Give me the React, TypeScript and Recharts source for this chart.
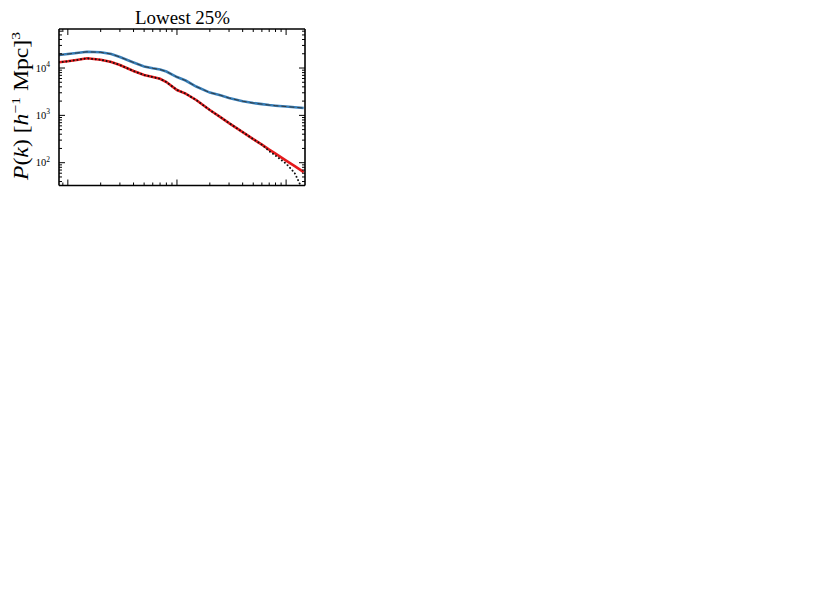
import { Line, LineChart, XAxis, YAxis } from 'recharts'

const kValues = [0.0083, 0.01, 0.012, 0.015, 0.02, 0.025, 0.03, 0.04, 0.05, 0.06, 0.07, 0.08, 0.1, 0.12, 0.15, 0.2, 0.25, 0.3, 0.4, 0.5, 0.6, 0.7, 0.8, 1.0, 1.2, 1.45]
const blueSim = [18830, 19770, 20760, 22000, 21480, 19770, 17080, 13070, 10760, 9860, 9300, 8430, 6450, 5440, 4060, 3030, 2660, 2320, 1990, 1820, 1730, 1650, 1600, 1535, 1480, 1430]
const blueModel = [18830, 19770, 20760, 22000, 21480, 19770, 17080, 13070, 10760, 9860, 9300, 8430, 6450, 5440, 4060, 3030, 2660, 2320, 1990, 1820, 1730, 1650, 1600, 1535, 1480, 1430]
const redSim = [13200, 13850, 14760, 16040, 14910, 13390, 11570, 8640, 7110, 6450, 5910, 5060, 3430, 2890, 2110, 1295, 921, 688, 444, 315, 241, 189, 156, 111, 84.8, 63.3]
const redModel = [13200, 13850, 14760, 16040, 14910, 13390, 11570, 8640, 7110, 6450, 5910, 5060, 3430, 2890, 2110, 1295, 921, 688, 444, 315, 241, 176, 141, 95.7, 60.3, 23.9]

const xTicks = [0.009, 0.01, 0.02, 0.03, 0.04, 0.05, 0.06, 0.07, 0.08, 0.09, 0.1, 0.2, 0.3, 0.4, 0.5, 0.6, 0.7, 0.8, 0.9, 1]
const yTicks = [40, 50, 60, 70, 80, 90, 100, 200, 300, 400, 500, 600, 700, 800, 900, 1000, 2000, 3000, 4000, 5000, 6000, 7000, 8000, 9000, 10000, 20000, 30000, 40000, 50000, 60000]

const data = kValues.map((k, i) => ({ k, blue: blueSim[i], blueM: blueModel[i], red: redSim[i], redM: redModel[i] }))

const BLUE = '#377eb8'
const RED = '#e41a1c'
const SERIF = '"Liberation Serif", "DejaVu Serif", serif'

const isDecade = (v: number) => Math.abs(Math.log10(v) - Math.round(Math.log10(v))) < 1e-9

const LeftTick = (p: any) => {
  const v = p.payload.value
  const major = isDecade(v)
  return (
    <g>
      <line x1={p.x} x2={p.x + (major ? 6 : 3)} y1={p.y} y2={p.y} stroke="#000" strokeWidth={1} />
      {major && (
        <text x={p.x - 9} y={p.y + 3.5} textAnchor="end" fontFamily={SERIF} fontSize={10.5} fill="#000">
          10<tspan dy={-4.5} fontSize={7.5}>{Math.round(Math.log10(v))}</tspan>
        </text>
      )}
    </g>
  )
}

const RightTick = (p: any) => {
  const major = isDecade(p.payload.value)
  return <line x1={p.x} x2={p.x - (major ? 6 : 3)} y1={p.y} y2={p.y} stroke="#000" strokeWidth={1} />
}

const BottomTick = (p: any) => {
  const major = isDecade(p.payload.value)
  return <line x1={p.x} x2={p.x} y1={p.y} y2={p.y - (major ? 6 : 3)} stroke="#000" strokeWidth={1} />
}

const TopTick = (p: any) => {
  const major = isDecade(p.payload.value)
  return <line x1={p.x} x2={p.x} y1={p.y} y2={p.y + (major ? 6 : 3)} stroke="#000" strokeWidth={1} />
}

const axisLine = { stroke: '#000', strokeWidth: 1.6 }

export default function App() {
  return (
    <div style={{ position: 'absolute', left: 0, top: 0, width: 831, height: 591, background: '#fff' }}>
      <div style={{ position: 'absolute', left: 0, top: 0, width: 320, height: 200 }}>
        <LineChart width={320} height={200} data={data} margin={{ top: 28, right: 14, bottom: 13.5, left: 19 }}>
          <XAxis xAxisId="bottom" dataKey="k" type="number" scale="log" domain={[0.0083, 1.49]} allowDataOverflow
            ticks={xTicks} interval={0} height={1} tickSize={0} tickMargin={0} tickLine={false} axisLine={axisLine} tick={BottomTick} />
          <XAxis xAxisId="top" orientation="top" dataKey="k" type="number" scale="log" domain={[0.0083, 1.49]} allowDataOverflow
            ticks={xTicks} interval={0} height={1} tickSize={0} tickMargin={0} tickLine={false} axisLine={axisLine} tick={TopTick} />
          <YAxis yAxisId="left" type="number" scale="log" domain={[33, 66700]} allowDataOverflow
            ticks={yTicks} interval={0} width={40} tickSize={0} tickMargin={0} tickLine={false} axisLine={axisLine} tick={LeftTick} />
          <YAxis yAxisId="right" orientation="right" type="number" scale="log" domain={[33, 66700]} allowDataOverflow
            ticks={yTicks} interval={0} width={1} tickSize={0} tickMargin={0} tickLine={false} axisLine={axisLine} tick={RightTick} />
          <Line xAxisId="bottom" yAxisId="left" dataKey="blue" stroke={BLUE} strokeWidth={2.6} dot={false} isAnimationActive={false} />
          <Line xAxisId="bottom" yAxisId="left" dataKey="blueM" stroke="#333" strokeWidth={0.9} strokeDasharray="5 3" dot={false} isAnimationActive={false} />
          <Line xAxisId="top" yAxisId="right" dataKey="red" stroke={RED} strokeWidth={2.6} dot={false} isAnimationActive={false} />
          <Line xAxisId="top" yAxisId="right" dataKey="redM" stroke="#111" strokeWidth={1.9} strokeDasharray="0.1 3.6" strokeLinecap="round" dot={false} isAnimationActive={false} />
        </LineChart>
        <svg width={320} height={200} style={{ position: 'absolute', left: 0, top: 0, pointerEvents: 'none' }}>
          <text x={182.5} y={24} textAnchor="middle" fontFamily={SERIF} fontSize={18} fill="#000" textLength={95} lengthAdjust="spacingAndGlyphs">
            Lowest 25%
          </text>
          <text transform="translate(28,106) rotate(-90)" textAnchor="middle" fontFamily={SERIF} fontSize={20.5} fill="#000" textLength={148} lengthAdjust="spacingAndGlyphs">
            <tspan fontStyle="italic">P</tspan>(<tspan fontStyle="italic">k</tspan>) [<tspan fontStyle="italic">h</tspan>
            <tspan dy={-8} fontSize={13.5}>−1</tspan>
            <tspan dy={8}> Mpc]</tspan>
            <tspan dy={-8} fontSize={13.5}>3</tspan>
          </text>
        </svg>
      </div>
    </div>
  )
}
